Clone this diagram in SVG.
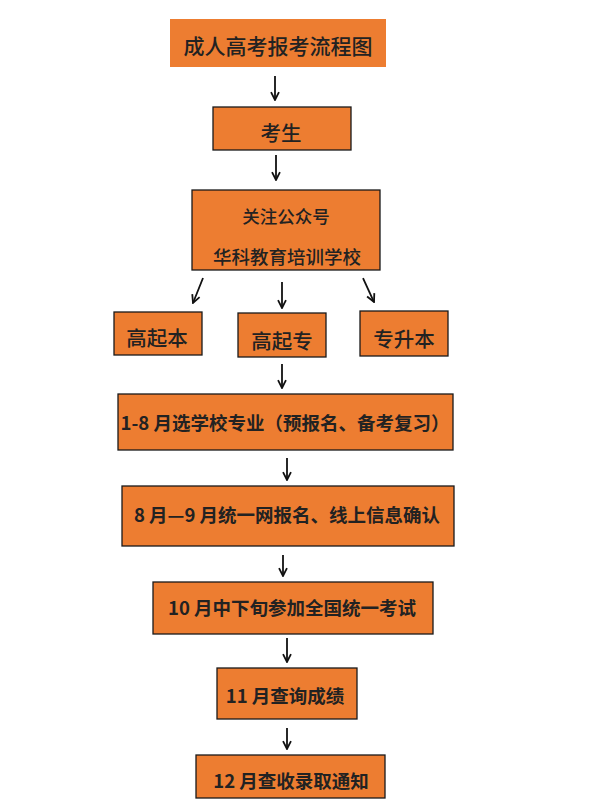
<svg xmlns="http://www.w3.org/2000/svg" width="597" height="807" viewBox="0 0 597 807">
<style>
.box{fill:#ED7D31;stroke:#1a1a1a;stroke-width:1.3}
.t{font-family:"Noto Sans CJK SC","Liberation Sans",sans-serif;fill:#222;text-anchor:middle;dominant-baseline:central}
.s{font-size:20.5px;font-weight:500}
.b{font-size:18.5px;font-weight:bold}
.c line{stroke:#111;stroke-width:1.8;marker-end:url(#ah)}
</style>
<defs>
<marker id="ah" viewBox="0 0 10 10" refX="9" refY="5" markerWidth="5.5" markerHeight="5.5" orient="auto" markerUnits="strokeWidth">
<path d="M1,1 L9,5 L1,9" fill="none" stroke="#111" stroke-width="1.8"/>
</marker>
</defs>
<rect width="597" height="807" fill="#fff"/>
<g id="title"><rect x="170" y="19" width="216" height="48" fill="#ED7D31"/><text class="t" style="font-size:21px;font-weight:500" x="278" y="45">成人高考报考流程图</text></g>
<g id="kaosheng"><rect class="box" x="213" y="107" width="138" height="43"/><text class="t s" x="281" y="132">考生</text></g>
<g id="gzh"><rect class="box" x="192" y="190" width="188" height="80"/><text class="t" style="font-size:17.5px;font-weight:500" x="286" y="215">关注公众号</text><text class="t" style="font-size:18.5px;font-weight:500" x="287" y="256">华科教育培训学校</text></g>
<g id="gqb"><rect class="box" x="114" y="312" width="88" height="43"/><text class="t s" x="157" y="337">高起本</text></g>
<g id="gqz"><rect class="box" x="238" y="313" width="88" height="44"/><text class="t s" x="282" y="340">高起专</text></g>
<g id="zsb"><rect class="box" x="360" y="311" width="88" height="45"/><text class="t s" x="404" y="338">专升本</text></g>
<g id="s1"><rect class="box" x="118" y="394" width="335" height="56"/><text class="t b" x="285" y="422">1-8 月选学校专业（预报名、备考复习）</text></g>
<g id="s2"><rect class="box" x="122" y="486" width="332" height="60"/><text class="t b" x="287" y="514">8 月—9 月统一网报名、线上信息确认</text></g>
<g id="s3"><rect class="box" x="153" y="582" width="280" height="52"/><text class="t b" x="292" y="607">10 月中下旬参加全国统一考试</text></g>
<g id="s4"><rect class="box" x="217" y="668" width="140" height="51"/><text class="t b" x="285" y="695">11 月查询成绩</text></g>
<g id="s5"><rect class="box" x="196" y="755" width="189" height="43"/><text class="t b" x="291" y="780">12 月查收录取通知</text></g>
<g class="c" id="connectors">
<line x1="275" y1="76" x2="275" y2="100"/>
<line x1="276" y1="155" x2="276" y2="180"/>
<line x1="203" y1="278" x2="193" y2="303"/>
<line x1="282" y1="282" x2="282" y2="308"/>
<line x1="363" y1="278" x2="374" y2="302"/>
<line x1="282" y1="364" x2="282" y2="388"/>
<line x1="287" y1="458" x2="287" y2="480"/>
<line x1="283" y1="555" x2="283" y2="576"/>
<line x1="287" y1="638" x2="287" y2="662"/>
<line x1="287" y1="728" x2="287" y2="749"/>
</g>
</svg>
